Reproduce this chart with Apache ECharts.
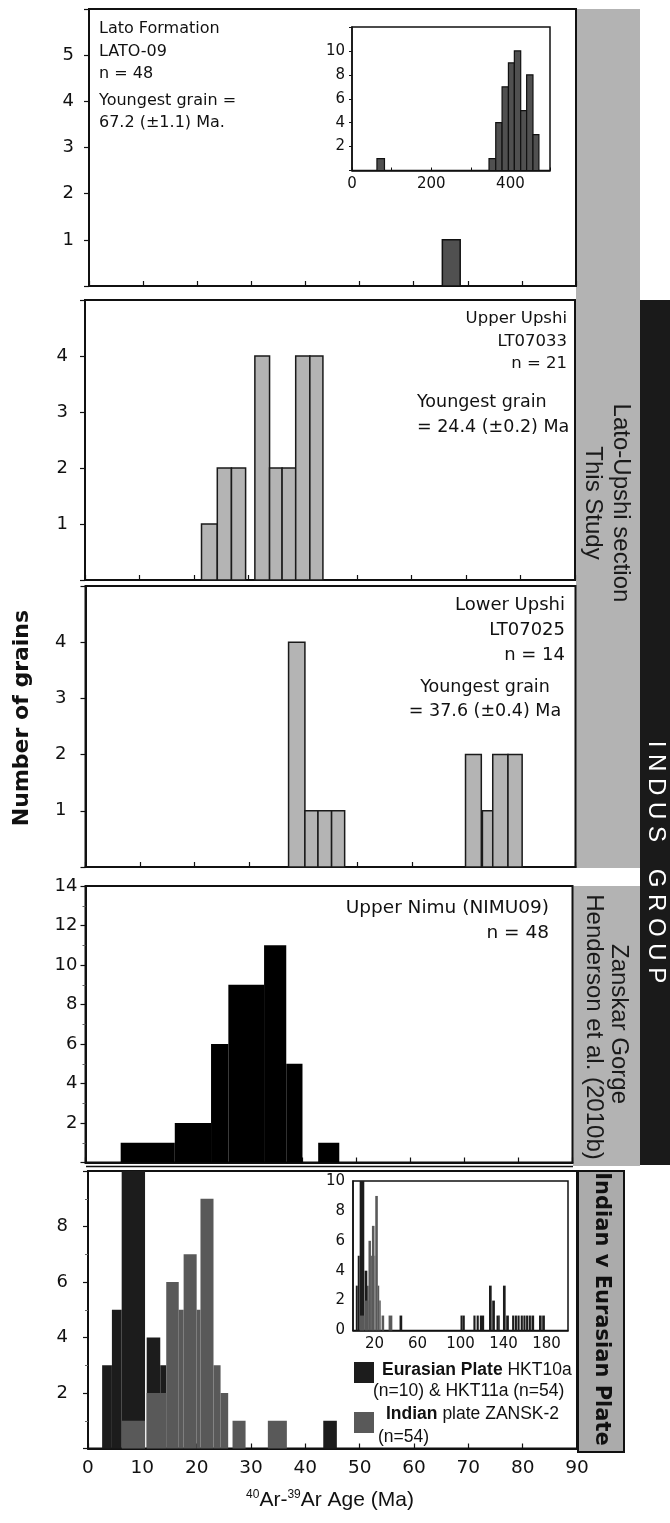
<!DOCTYPE html>
<html>
<head>
<meta charset="utf-8">
<script src="https://cdn.jsdelivr.net/npm/echarts@6/dist/echarts.min.js"></script>
<style>
  html, body { margin: 0; padding: 0; background: #fff; }
  #chart { width: 670px; height: 1523px; }
</style>
</head>
<body>
<div id="chart"></div>
<script>
// every bin is [from Ma, to Ma, number of grains]
const latoBins = [[65.3, 68.6, 1]];
const latoInsetBins = [
  [63, 82, 1], [346, 363, 1], [363, 379, 4], [379, 395, 7], [395, 410, 9],
  [410, 426, 10], [426, 441, 5], [441, 457, 8], [457, 472, 3]
];
const upperUpshiBins = [
  [21.4, 24.3, 1], [24.3, 26.9, 2], [26.9, 29.5, 2], [31.2, 33.9, 4],
  [33.9, 36.2, 2], [36.2, 38.7, 2], [38.7, 41.3, 4], [41.3, 43.7, 4]
];
const lowerUpshiBins = [
  [37.3, 40.3, 4], [40.3, 42.7, 1], [42.7, 45.2, 1], [45.2, 47.6, 1],
  [69.8, 72.7, 2], [72.9, 74.8, 1], [74.8, 77.6, 2], [77.6, 80.2, 2]
];
const upperNimuBins = [
  [6.5, 16.5, 1], [16.5, 23.2, 2], [23.2, 26.4, 6], [26.4, 33.0, 9],
  [33.0, 37.1, 11], [37.1, 40.1, 5], [43.0, 46.9, 1]
];
const eurasianBins = [
  [2.6, 4.4, 3], [4.4, 6.2, 5], [6.2, 10.5, 10], [10.8, 13.3, 4],
  [13.3, 14.4, 3], [43.3, 45.8, 1]
];
const indianBins = [
  [6.2, 10.5, 1], [10.8, 14.4, 2], [14.4, 16.7, 6], [16.7, 17.6, 5],
  [17.6, 20.0, 7], [20.0, 20.7, 5], [20.7, 23.1, 9], [23.1, 24.4, 3],
  [24.4, 25.8, 2], [26.6, 29.0, 1], [33.1, 36.6, 1]
];
// older Eurasian grains, only in the small inset
const eurasianOldBins = [
  [100, 102, 1], [102, 104, 1], [112, 114, 1], [115, 117, 1], [118, 120, 1],
  [120, 122, 1], [126.5, 129, 3], [129.5, 132, 2], [133.5, 135, 1], [135, 136.5, 1],
  [139.5, 142, 3], [142.5, 145, 1], [148, 150, 1], [150.5, 152.5, 1], [153, 155, 1],
  [156, 158, 1], [158.5, 160.5, 1], [161, 163, 1], [163.5, 165.5, 1], [166, 168.5, 1],
  [173, 175.5, 1], [176, 178.5, 1]
];
const ageTicks = [0, 10, 20, 30, 40, 50, 60, 70, 80, 90];

const FONT = 'DejaVu Sans';
const INK = '#111';

const chart = echarts.init(document.getElementById('chart'), null, { renderer: 'canvas' });

function bars(fill, stroke, lw) {
  return function (params, api) {
    const top = api.coord([api.value(0), api.value(2)]);
    const base = api.coord([api.value(1), 0]);
    return {
      type: 'rect',
      shape: { x: top[0], y: top[1], width: base[0] - top[0], height: base[1] - top[1] },
      style: { fill: fill, stroke: stroke || null, lineWidth: lw || 0 }
    };
  };
}

function ageAxis(gridIndex, showLabels) {
  return {
    type: 'value', gridIndex: gridIndex, min: 0, max: 90, interval: 10,
    axisLine: { show: true, onZero: false, lineStyle: { color: INK, width: 2 } },
    axisTick: { show: true, inside: true, length: 5, lineStyle: { color: INK, width: 1.2 } },
    axisLabel: {
      show: showLabels, color: INK, fontFamily: FONT, fontSize: 18.5, margin: 10,
      formatter: v => (ageTicks.indexOf(v) >= 0 ? String(v) : '')
    },
    splitLine: { show: false }
  };
}

function countAxis(gridIndex, max, step, margin, hideTop, minor) {
  return {
    type: 'value', gridIndex: gridIndex, min: 0, max: max, interval: step,
    axisLine: { show: true, onZero: false, lineStyle: { color: INK, width: 2 } },
    axisTick: { show: true, length: 5, lineStyle: { color: INK, width: 1.2 } },
    minorTick: { show: !!minor, splitNumber: 2, length: 3, lineStyle: { color: '#666' } },
    axisLabel: {
      color: INK, fontFamily: FONT, fontSize: 18, margin: margin,
      formatter: v => (v === 0 || (hideTop && v === max)) ? '' : String(v)
    },
    splitLine: { show: false }
  };
}

const gridBox = { show: true, borderColor: INK, borderWidth: 2, backgroundColor: 'transparent' };

const option = {
  animation: false,
  backgroundColor: '#fff',
  grid: [
    Object.assign({ left: 89, top: 9, width: 487, height: 277 }, gridBox),
    { show: true, left: 352, top: 27, width: 198, height: 143.5, borderColor: INK, borderWidth: 1.5, backgroundColor: '#fff' },
    Object.assign({ left: 85, top: 300, width: 490, height: 280 }, gridBox),
    Object.assign({ left: 85.5, top: 586, width: 490, height: 281 }, gridBox),
    Object.assign({ left: 85.5, top: 886, width: 487, height: 276.5 }, gridBox),
    Object.assign({ left: 88, top: 1171, width: 489, height: 277.5 }, gridBox),
    { show: true, left: 353, top: 1181, width: 215, height: 149.5, borderColor: INK, borderWidth: 1.5, backgroundColor: '#fff' }
  ],
  xAxis: [
    ageAxis(0, false),
    {
      type: 'value', gridIndex: 1, min: 0, max: 500, interval: 100,
      axisLine: { lineStyle: { color: INK, width: 1.5 } },
      axisTick: { inside: true, length: 3, lineStyle: { color: INK } },
      axisLabel: { color: INK, fontFamily: FONT, fontSize: 15, margin: 6,
        formatter: v => (v % 200 === 0 && v < 500) ? String(v) : '' },
      splitLine: { show: false }
    },
    ageAxis(2, false),
    ageAxis(3, false),
    ageAxis(4, false),
    ageAxis(5, true),
    {
      type: 'value', gridIndex: 6, min: 0, max: 200, interval: 20,
      axisLine: { lineStyle: { color: INK, width: 1.5 } },
      axisTick: { show: false },
      axisLabel: { color: INK, fontFamily: FONT, fontSize: 15, margin: 6,
        formatter: v => (v % 40 === 20) ? String(v) : '' },
      splitLine: { show: false }
    }
  ],
  yAxis: [
    countAxis(0, 6, 1, 15, true, false),
    {
      type: 'value', gridIndex: 1, min: 0, max: 12, interval: 2,
      axisLine: { lineStyle: { color: INK, width: 1.5 } },
      axisTick: { length: 3, lineStyle: { color: INK } },
      axisLabel: { color: INK, fontFamily: FONT, fontSize: 15, margin: 7,
        formatter: v => (v === 0 || v === 12) ? '' : String(v) },
      splitLine: { show: false }
    },
    countAxis(2, 5, 1, 17, true, false),
    countAxis(3, 5, 1, 19, true, false),
    countAxis(4, 14, 2, 8, false, true),
    countAxis(5, 10, 2, 20, true, true),
    {
      type: 'value', gridIndex: 6, min: 0, max: 10, interval: 2,
      axisLine: { lineStyle: { color: INK, width: 1.5 } },
      axisTick: { show: false },
      axisLabel: { color: INK, fontFamily: FONT, fontSize: 15, margin: 8 },
      splitLine: { show: false }
    }
  ],
  series: [
    { type: 'custom', xAxisIndex: 0, yAxisIndex: 0, data: latoBins, encode: { x: [0, 1], y: 2 },
      renderItem: bars('#505050', INK, 1.5), silent: true },
    { type: 'custom', xAxisIndex: 1, yAxisIndex: 1, data: latoInsetBins, encode: { x: [0, 1], y: 2 },
      renderItem: bars('#505050', INK, 1.2), silent: true },
    { type: 'custom', xAxisIndex: 2, yAxisIndex: 2, data: upperUpshiBins, encode: { x: [0, 1], y: 2 },
      renderItem: bars('#b4b4b4', '#1a1a1a', 1.5), silent: true },
    { type: 'custom', xAxisIndex: 3, yAxisIndex: 3, data: lowerUpshiBins, encode: { x: [0, 1], y: 2 },
      renderItem: bars('#b4b4b4', '#1a1a1a', 1.5), silent: true },
    { type: 'custom', xAxisIndex: 4, yAxisIndex: 4, data: upperNimuBins, encode: { x: [0, 1], y: 2 },
      renderItem: bars('#000'), silent: true },
    { type: 'custom', xAxisIndex: 5, yAxisIndex: 5, data: eurasianBins, encode: { x: [0, 1], y: 2 },
      renderItem: bars('#1c1c1c'), silent: true },
    { type: 'custom', xAxisIndex: 5, yAxisIndex: 5, data: indianBins, encode: { x: [0, 1], y: 2 },
      renderItem: bars('#595959'), silent: true },
    { type: 'custom', xAxisIndex: 6, yAxisIndex: 6, data: eurasianBins.concat(eurasianOldBins), encode: { x: [0, 1], y: 2 },
      renderItem: bars('#1c1c1c'), silent: true },
    { type: 'custom', xAxisIndex: 6, yAxisIndex: 6, data: indianBins, encode: { x: [0, 1], y: 2 },
      renderItem: bars('#595959'), silent: true }
  ],
  graphic: [
    // side boxes
    { type: 'rect', z: -10, shape: { x: 576, y: 9, width: 64, height: 859 }, style: { fill: '#b3b3b3' } },
    { type: 'rect', z: -10, shape: { x: 573, y: 886, width: 67, height: 280 }, style: { fill: '#b3b3b3' } },
    { type: 'rect', z: -10, shape: { x: 640, y: 300, width: 30, height: 865 }, style: { fill: '#1a1a1a' } },
    { type: 'rect', z: 5, shape: { x: 578, y: 1171, width: 46, height: 281 }, style: { fill: '#ababab', stroke: INK, lineWidth: 2 } },
    { type: 'line', z: 5, shape: { x1: 86, y1: 1166.5, x2: 573, y2: 1166.5 }, style: { stroke: INK, lineWidth: 1.5 } },

    // panel notes
    { type: 'text', z: 20, x: 99, y: 29, style: { text: 'Lato Formation', font: '16px "DejaVu Sans"', fill: INK, align: 'left', verticalAlign: 'middle' } },
    { type: 'text', z: 20, x: 99, y: 52, style: { text: 'LATO-09', font: '16px "DejaVu Sans"', fill: INK, align: 'left', verticalAlign: 'middle' } },
    { type: 'text', z: 20, x: 99, y: 74, style: { text: 'n = 48', font: '16px "DejaVu Sans"', fill: INK, align: 'left', verticalAlign: 'middle' } },
    { type: 'text', z: 20, x: 99, y: 101, style: { text: 'Youngest grain =', font: '16px "DejaVu Sans"', fill: INK, align: 'left', verticalAlign: 'middle' } },
    { type: 'text', z: 20, x: 99, y: 123, style: { text: '67.2 (\u00b11.1) Ma.', font: '16px "DejaVu Sans"', fill: INK, align: 'left', verticalAlign: 'middle' } },

    { type: 'text', z: 20, x: 567, y: 319, style: { text: 'Upper Upshi', font: '16.5px "DejaVu Sans"', fill: INK, align: 'right', verticalAlign: 'middle' } },
    { type: 'text', z: 20, x: 567, y: 342, style: { text: 'LT07033', font: '16.5px "DejaVu Sans"', fill: INK, align: 'right', verticalAlign: 'middle' } },
    { type: 'text', z: 20, x: 567, y: 364, style: { text: 'n = 21', font: '16.5px "DejaVu Sans"', fill: INK, align: 'right', verticalAlign: 'middle' } },
    { type: 'text', z: 20, x: 417, y: 402, style: { text: 'Youngest grain', font: '17.5px "DejaVu Sans"', fill: INK, align: 'left', verticalAlign: 'middle' } },
    { type: 'text', z: 20, x: 417, y: 427, style: { text: '= 24.4 (\u00b10.2) Ma', font: '17.5px "DejaVu Sans"', fill: INK, align: 'left', verticalAlign: 'middle' } },

    { type: 'text', z: 20, x: 565, y: 605, style: { text: 'Lower Upshi', font: '18px "DejaVu Sans"', fill: INK, align: 'right', verticalAlign: 'middle' } },
    { type: 'text', z: 20, x: 565, y: 630, style: { text: 'LT07025', font: '18px "DejaVu Sans"', fill: INK, align: 'right', verticalAlign: 'middle' } },
    { type: 'text', z: 20, x: 565, y: 655, style: { text: 'n = 14', font: '18px "DejaVu Sans"', fill: INK, align: 'right', verticalAlign: 'middle' } },
    { type: 'text', z: 20, x: 485, y: 687, style: { text: 'Youngest grain', font: '17.5px "DejaVu Sans"', fill: INK, align: 'center', verticalAlign: 'middle' } },
    { type: 'text', z: 20, x: 485, y: 711, style: { text: '= 37.6 (\u00b10.4) Ma', font: '17.5px "DejaVu Sans"', fill: INK, align: 'center', verticalAlign: 'middle' } },

    { type: 'text', z: 20, x: 549, y: 908, style: { text: 'Upper Nimu (NIMU09)', font: '18.5px "DejaVu Sans"', fill: INK, align: 'right', verticalAlign: 'middle' } },
    { type: 'text', z: 20, x: 549, y: 933, style: { text: 'n = 48', font: '18.5px "DejaVu Sans"', fill: INK, align: 'right', verticalAlign: 'middle' } },

    // legend of bottom panel
    { type: 'rect', z: 20, shape: { x: 354, y: 1362, width: 20, height: 21 }, style: { fill: '#1c1c1c' } },
    { type: 'text', z: 20, x: 382, y: 1370, style: { text: '{b|Eurasian Plate} HKT10a', font: '17.5px "Liberation Sans"', fill: INK, align: 'left', verticalAlign: 'middle',
      rich: { b: { fontWeight: 'bold', fontSize: 17.5, fontFamily: 'Liberation Sans', fill: INK } } } },
    { type: 'text', z: 20, x: 373, y: 1391, style: { text: '(n=10) & HKT11a (n=54)', font: '17.5px "Liberation Sans"', fill: INK, align: 'left', verticalAlign: 'middle' } },
    { type: 'rect', z: 20, shape: { x: 354, y: 1412, width: 20, height: 21 }, style: { fill: '#595959' } },
    { type: 'text', z: 20, x: 386, y: 1414, style: { text: '{b|Indian} plate ZANSK-2', font: '17.5px "Liberation Sans"', fill: INK, align: 'left', verticalAlign: 'middle',
      rich: { b: { fontWeight: 'bold', fontSize: 17.5, fontFamily: 'Liberation Sans', fill: INK } } } },
    { type: 'text', z: 20, x: 378, y: 1437, style: { text: '(n=54)', font: '17.5px "Liberation Sans"', fill: INK, align: 'left', verticalAlign: 'middle' } },

    // side labels
    { type: 'text', z: 20, x: 621, y: 503, rotation: -Math.PI / 2, style: { text: 'Lato-Upshi section', font: '24px "Liberation Sans"', fill: '#1a1a1a', align: 'center', verticalAlign: 'middle' } },
    { type: 'text', z: 20, x: 593, y: 503, rotation: -Math.PI / 2, style: { text: 'This Study', font: '24px "Liberation Sans"', fill: '#1a1a1a', align: 'center', verticalAlign: 'middle' } },
    { type: 'text', z: 20, x: 619, y: 1024, rotation: -Math.PI / 2, style: { text: 'Zanskar Gorge', font: '24px "Liberation Sans"', fill: '#1a1a1a', align: 'center', verticalAlign: 'middle' } },
    { type: 'text', z: 20, x: 594, y: 1027, rotation: -Math.PI / 2, style: { text: 'Henderson et al. (2010b)', font: '24px "Liberation Sans"', fill: '#1a1a1a', align: 'center', verticalAlign: 'middle' } },
    { type: 'text', z: 20, x: 656, y: 862, rotation: -Math.PI / 2, style: { text: 'I N D U S    G R O U P', font: '300 24px "Liberation Sans"', fill: '#fff', align: 'center', verticalAlign: 'middle' } },
    { type: 'text', z: 20, x: 601, y: 1309, rotation: -Math.PI / 2, style: { text: 'Indian v Eurasian Plate', font: 'bold 21px "DejaVu Sans"', fill: INK, align: 'center', verticalAlign: 'middle' } },

    // axis titles
    { type: 'text', z: 20, x: 22, y: 718, rotation: Math.PI / 2, style: { text: 'Number of grains', font: 'bold 22px "DejaVu Sans"', fill: INK, align: 'center', verticalAlign: 'middle' } },
    { type: 'text', z: 20, x: 330, y: 1500, style: { text: '{s|40}Ar-{s|39}Ar Age (Ma)', font: '21px "Liberation Sans"', fill: INK, align: 'center', verticalAlign: 'middle',
      rich: { s: { fontSize: 12, fontFamily: 'Liberation Sans', fill: INK, verticalAlign: 'top', lineHeight: 22 }, '': {} } } }
  ]
};

chart.setOption(option);
</script>
</body>
</html>
